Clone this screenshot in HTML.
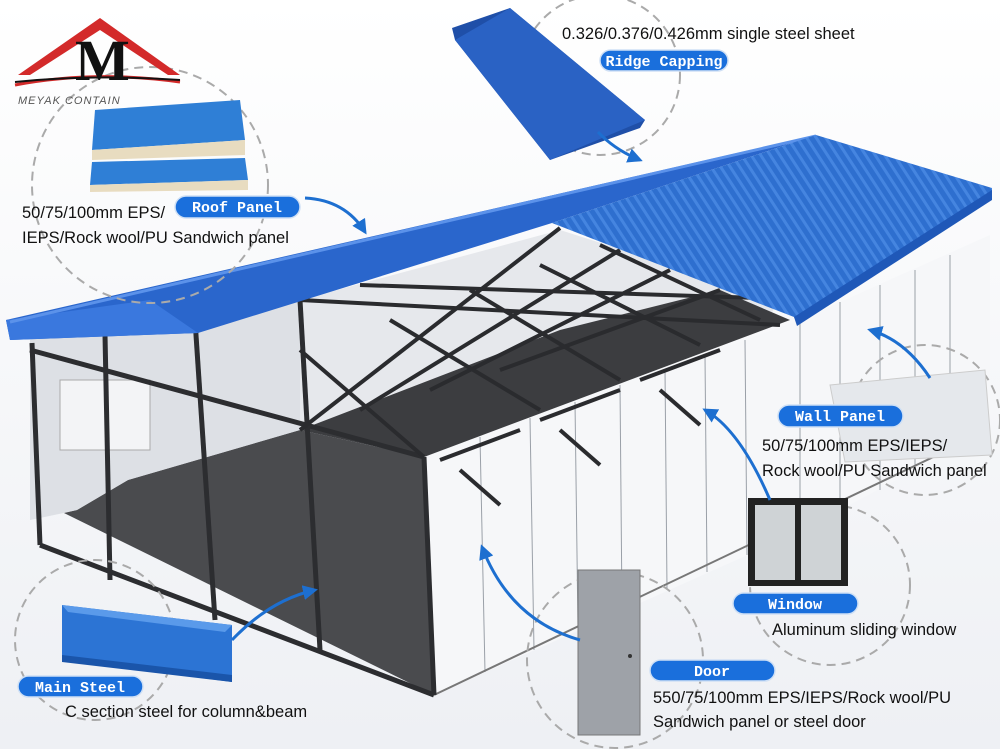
<!DOCTYPE html>
<html><head><meta charset="utf-8"><style>
html,body{margin:0;padding:0;background:#fff;}
svg{display:block;}
.t{font-family:"Liberation Sans",sans-serif;font-size:16.5px;fill:#111;}
.lb{font-family:"Liberation Mono",monospace;font-weight:bold;font-size:15px;fill:#fff;}
</style></head><body>
<svg width="1000" height="749" viewBox="0 0 1000 749" xmlns="http://www.w3.org/2000/svg">
<defs>
<linearGradient id="bg" x1="0" y1="0" x2="0" y2="1"><stop offset="0" stop-color="#ffffff"/><stop offset="1" stop-color="#eef0f4"/></linearGradient>
<marker id="ah" viewBox="0 0 10 10" refX="8" refY="5" markerWidth="5" markerHeight="5" orient="auto"><path d="M0,0 L10,5 L0,10 z" fill="#1d6fd0"/></marker>
<pattern id="corr" width="8" height="8" patternUnits="userSpaceOnUse" patternTransform="rotate(-33)"><rect width="8" height="8" fill="#2e6fcf"/><rect width="3" height="8" fill="#4585e0"/></pattern>
</defs>
<rect width="1000" height="749" fill="url(#bg)"/>

<polygon points="30,340 300,300 560,230 780,300 760,330 424,457 434,695 64,513 30,520" fill="#e6e8ec"/>
<polygon points="424,457 800,320 990,235 990,430 797,533 434,695" fill="#f6f7f9"/>
<g stroke="#9aa0a8" stroke-width="1">
<line x1="480" y1="437" x2="485" y2="672"/><line x1="530" y1="418" x2="534" y2="650"/><line x1="575" y1="402" x2="578" y2="630"/><line x1="620" y1="385" x2="622" y2="610"/><line x1="665" y1="369" x2="667" y2="590"/><line x1="705" y1="355" x2="707" y2="572"/><line x1="745" y1="340" x2="747" y2="555"/><line x1="800" y1="320" x2="800" y2="530"/><line x1="840" y1="302" x2="840" y2="510"/><line x1="880" y1="285" x2="880" y2="490"/><line x1="915" y1="270" x2="915" y2="470"/><line x1="950" y1="255" x2="950" y2="450"/>
</g>
<line x1="434" y1="695" x2="990" y2="430" stroke="#777" stroke-width="2"/>
<polygon points="77,510 128,480 300,430 424,457 434,695 64,513" fill="#4a4b4e"/>
<polygon points="300,430 424,457 790,320 720,290 560,330" fill="#3c3d40"/>
<polygon points="30,340 300,300 300,430 128,480 77,510 30,520" fill="#dcdfe4" opacity="0.9"/>
<rect x="60" y="380" width="90" height="70" fill="#f3f4f6" stroke="#aaa"/>
<g stroke="#2c2d30" stroke-width="5" fill="none">
<line x1="32" y1="343" x2="40" y2="545"/><line x1="105" y1="335" x2="110" y2="580"/><line x1="195" y1="320" x2="215" y2="620"/><line x1="300" y1="300" x2="320" y2="650"/><line x1="424" y1="457" x2="434" y2="695"/>
<line x1="40" y1="545" x2="434" y2="695"/>
<line x1="30" y1="350" x2="424" y2="457"/>
</g>
<g stroke="#2a2b2e" stroke-width="4">
<line x1="300" y1="300" x2="780" y2="325"/><line x1="360" y1="285" x2="820" y2="300"/>
<line x1="300" y1="430" x2="560" y2="228"/><line x1="360" y1="410" x2="620" y2="250"/><line x1="430" y1="390" x2="670" y2="270"/><line x1="500" y1="370" x2="720" y2="290"/>
<line x1="300" y1="350" x2="424" y2="457"/><line x1="390" y1="320" x2="540" y2="410"/><line x1="470" y1="290" x2="620" y2="380"/><line x1="540" y1="265" x2="700" y2="345"/><line x1="600" y1="245" x2="760" y2="320"/>
<line x1="440" y1="460" x2="520" y2="430"/><line x1="540" y1="420" x2="620" y2="390"/><line x1="640" y1="380" x2="720" y2="350"/>
<line x1="460" y1="470" x2="500" y2="505"/><line x1="560" y1="430" x2="600" y2="465"/><line x1="660" y1="390" x2="700" y2="425"/>
</g>
<polygon points="6,320 816,135 552,223 198,333 10,340" fill="#2a66cc"/>
<polygon points="6,320 150,300 198,333 10,340" fill="#3a78de"/>
<line x1="10" y1="322" x2="816" y2="136" stroke="#5b92ea" stroke-width="3"/>
<polygon points="552,223 816,135 992,188 992,197 797,323 794,317" fill="url(#corr)"/>
<polygon points="794,317 992,190 992,200 797,326" fill="#1f58b8"/>

<g fill="none" stroke="#aaaaaa" stroke-width="2" stroke-dasharray="9,6">
<circle cx="150" cy="185" r="118"/>
<circle cx="600" cy="75" r="80"/>
<circle cx="925" cy="420" r="75"/>
<circle cx="830" cy="585" r="80"/>
<circle cx="615" cy="660" r="88"/>
<circle cx="95" cy="640" r="80"/>
</g>

<polygon points="18,75 100,18 180,75 168,75 100,30 30,75" fill="#d32a2a"/>
<path d="M15,85 Q95,70 180,82" stroke="#d32a2a" stroke-width="3" fill="none"/>
<path d="M15,82 Q95,74 180,80" stroke="#111" stroke-width="2" fill="none"/>
<text x="75" y="80" font-family="Liberation Serif,serif" font-size="58" font-weight="bold" fill="#111">M</text>
<text x="18" y="104" font-family="Liberation Sans,sans-serif" font-style="italic" font-size="11" fill="#555" letter-spacing="1">MEYAK CONTAIN</text>

<polygon points="95,110 240,100 245,140 92,150" fill="#2f7fd6"/>
<polygon points="92,150 245,140 245,155 92,160" fill="#e8dcc0"/>
<polygon points="92,162 245,158 248,180 90,185" fill="#2f7fd6"/>
<polygon points="90,185 248,180 248,190 90,192" fill="#e8dcc0"/>
<polygon points="452,28 510,8 645,120 640,128 550,160 455,40" fill="#1f4fa8"/>
<polygon points="510,8 645,120 550,160 455,40" fill="#2a62c4"/>
<polygon points="830,385 985,370 992,455 845,462" fill="#e5e8ec" stroke="#ccc"/>
<rect x="748" y="498" width="100" height="88" fill="#222"/>
<rect x="755" y="505" width="40" height="75" fill="#cfd3d6"/>
<rect x="801" y="505" width="40" height="75" fill="#cfd3d6"/>
<rect x="578" y="570" width="62" height="165" fill="#9ea2a8" stroke="#777"/>
<circle cx="630" cy="656" r="2" fill="#333"/>
<polygon points="62,605 232,625 232,682 62,660" fill="#2c74d4"/>
<polygon points="62,605 232,625 225,632 68,612" fill="#5a9aea"/>
<polygon points="62,655 232,675 232,682 62,662" fill="#1a55aa"/>

<g stroke="#1d6fd0" stroke-width="3" fill="none" marker-end="url(#ah)">
<path d="M305,198 Q345,200 365,232"/>
<path d="M598,132 Q615,150 640,160"/>
<path d="M930,378 Q905,340 870,330"/>
<path d="M770,500 Q740,430 705,410"/>
<path d="M580,640 Q510,620 482,547"/>
<path d="M232,640 Q270,600 315,590"/>
</g>

<g fill="#1a6fdc" stroke="#cfe0f5" stroke-width="1.5">
<rect x="175" y="196" width="125" height="22" rx="11"/>
<rect x="600" y="50" width="128" height="21" rx="10.5"/>
<rect x="778" y="405" width="125" height="22" rx="11"/>
<rect x="733" y="593" width="125" height="21" rx="10.5"/>
<rect x="650" y="660" width="125" height="21" rx="10.5"/>
<rect x="18" y="676" width="125" height="21" rx="10.5"/>
</g>
<text class="lb" x="237" y="212" text-anchor="middle">Roof Panel</text>
<text class="lb" x="664" y="66" text-anchor="middle">Ridge Capping</text>
<text class="lb" x="840" y="421" text-anchor="middle">Wall Panel</text>
<text class="lb" x="795" y="609" text-anchor="middle">Window</text>
<text class="lb" x="712" y="676" text-anchor="middle">Door</text>
<text class="lb" x="80" y="692" text-anchor="middle">Main Steel</text>

<text class="t" x="562" y="39">0.326/0.376/0.426mm single steel sheet</text>
<text class="t" x="22" y="218">50/75/100mm EPS/</text>
<text class="t" x="22" y="243">IEPS/Rock wool/PU Sandwich panel</text>
<text class="t" x="762" y="451">50/75/100mm EPS/IEPS/</text>
<text class="t" x="762" y="476">Rock wool/PU Sandwich panel</text>
<text class="t" x="772" y="635">Aluminum sliding window</text>
<text class="t" x="653" y="703">550/75/100mm EPS/IEPS/Rock wool/PU</text>
<text class="t" x="653" y="727">Sandwich panel or steel door</text>
<text class="t" x="65" y="717">C section steel for column&amp;beam</text>
</svg>
</body></html>
